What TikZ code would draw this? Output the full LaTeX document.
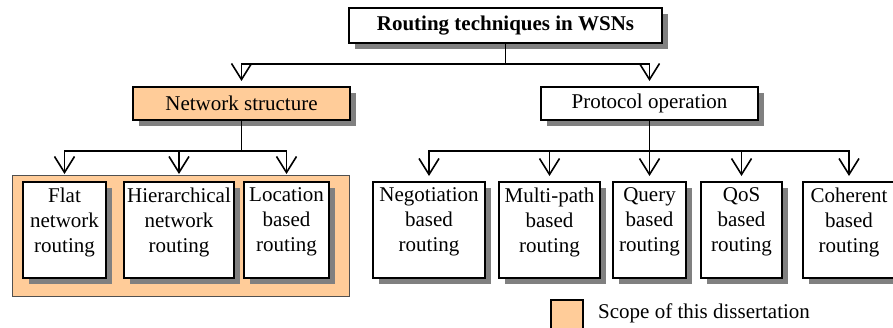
\documentclass[tikz,border=0pt]{standalone}
\usepackage{fontspec}
\setmainfont{Liberation Serif}
\usetikzlibrary{arrows.meta,shadows}
\definecolor{scope}{HTML}{FFCC99}
\definecolor{shade}{HTML}{808080}
\definecolor{rim}{HTML}{505050}
\tikzset{
  box/.style={draw, line width=2pt, fill=white, inner sep=0pt,
    font=\fontsize{21}{25}\selectfont,
    drop shadow={shadow xshift=5.5pt, shadow yshift=-5.5pt, fill=shade, opacity=1}},
  leaf/.style={box, minimum height=96pt, minimum width=#1},
  lab/.style={anchor=north, align=center, inner sep=0pt, yshift=-6.5pt,
    font=\fontsize{21}{25}\selectfont},
  conn/.style={line width=1.8pt},
  arr/.style={conn, -{Straight Barb[length=16pt, width=20pt, line width=1.6pt]}}
}
\begin{document}
\begin{tikzpicture}[x=1pt, y=-1pt]
\useasboundingbox (0,0) rectangle (893,327);

% scope background behind the network-structure leaves
\path[fill=scope, draw=rim, line width=1pt] (12,175) rectangle (349,296);

% root and the two classes
\node[box, minimum width=313pt, minimum height=35pt, font=\fontsize{21}{25}\selectfont\bfseries]
  (root) at (505.5,25.5) {Routing techniques in WSNs};
\node[box, fill=scope, minimum width=217pt, minimum height=33pt] (ns) at (241.5,103.5) {Network structure};
\node[box, minimum width=217pt, minimum height=33pt] (po) at (649.5,103.5) {Protocol operation};

% leaves
\node[leaf=83pt,  label={[lab]north:Flat\\network\\routing}]         (flat)  at (64.5,230)  {};
\node[leaf=110pt, label={[lab]north:Hierarchical\\network\\routing}] (hier)  at (179,230)   {};
\node[leaf=85pt,  label={[lab]north:Location\\based\\routing}]       (loc)   at (286.5,230) {};
\node[leaf=112pt, label={[lab]north:Negotiation\\based\\routing}]    (neg)   at (429,230)   {};
\node[leaf=101pt, label={[lab]north:Multi-path\\based\\routing}]     (multi) at (549.5,230) {};
\node[leaf=73pt,  label={[lab]north:Query\\based\\routing}]          (query) at (649.5,230) {};
\node[leaf=81pt,  label={[lab]north:QoS\\based\\routing}]            (qos)   at (741.5,230) {};
\node[leaf=92pt,  label={[lab]north:Coherent\\based\\routing}]       (coh)   at (849,230)   {};

% junctions
\coordinate (j0) at (505.5,64);
\coordinate (j1) at (241.5,151);
\coordinate (j2) at (649.5,151);

% connectors
\draw[conn] (root.south) -- (j0);
\draw[arr, shorten >=5pt] (j0) -| (ns.north);
\draw[arr, shorten >=5pt] (j0) -| (po.north);

\draw[conn] (ns.south) -- (j1);
\draw[arr, shorten >=7pt] (j1) -| (flat.north);
\draw[arr, shorten >=7pt] (j1) -| (hier.north);
\draw[arr, shorten >=7pt] (j1) -| (loc.north);

\draw[conn] (po.south) -- (j2);
\draw[arr, shorten >=5pt] (j2) -| (neg.north);
\draw[arr, shorten >=5pt] (j2) -| (multi.north);
\draw[arr, shorten >=5pt] (j2) -- (query.north);
\draw[arr, shorten >=5pt] (j2) -| (qos.north);
\draw[arr, shorten >=5pt] (j2) -| (coh.north);

% legend
\node[draw, line width=1.5pt, fill=scope, minimum width=32pt, minimum height=34pt, inner sep=0pt,
  anchor=north west] (key) at (550,299) {};
\node[anchor=base west, inner sep=0pt, font=\fontsize{21}{25}\selectfont] (keytext) at (598,318)
  {Scope of this dissertation};
\end{tikzpicture}
\end{document}
